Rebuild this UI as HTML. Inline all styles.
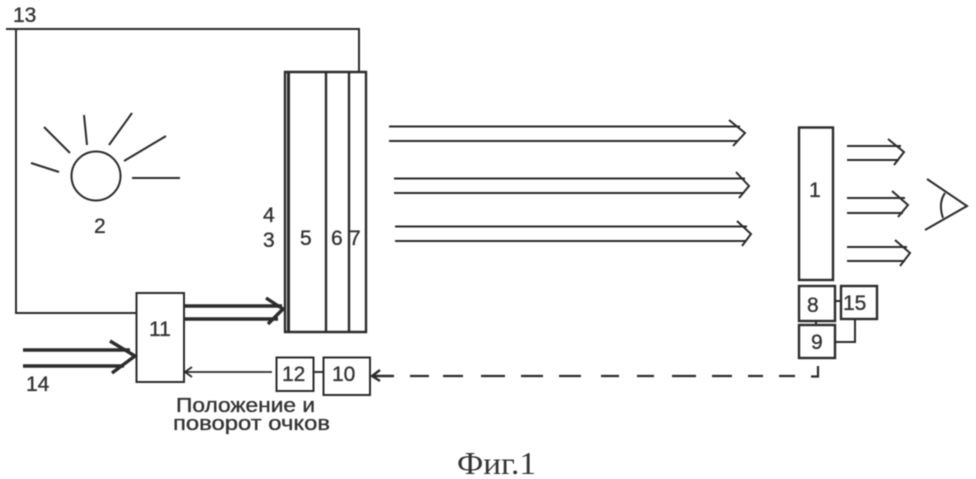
<!DOCTYPE html>
<html><head><meta charset="utf-8"><style>
html,body{margin:0;padding:0;background:#fff;width:976px;height:479px;overflow:hidden}
svg{display:block;filter:blur(0.55px)}
text{font-family:"Liberation Sans",sans-serif;font-size:21px;fill:#333;stroke:#333;stroke-width:.35px}
</style></head><body>
<svg width="976" height="479" viewBox="0 0 976 479" xmlns="http://www.w3.org/2000/svg">
<g fill="none" stroke="#2b2b2b" stroke-width="2">
<path d="M6 29H359V72M16 29V313H136"/>
<path d="M285 72H366V332H285Z" stroke-width="2.400"/>
<path d="M288.500 72V332" stroke-width="3"/>
<path d="M326 72V332M349 72V332" stroke-width="2.400"/>
<rect x="136.500" y="293" width="47.500" height="89"/>
<rect x="276.500" y="357.500" width="37" height="33.500"/>
<rect x="323.500" y="357.500" width="46.500" height="37.500"/>
<path d="M313 372H323"/>
<path d="M272 372H186M192 367L185 372L192 377" stroke-width="1.800"/>
<path d="M394 376H372M380 370L372 376L380 381" stroke-width="2.400"/>
<path d="M410 376H429M443 376H463M481 376H505M521 376H543M559 376H581M601 376H619M637 376H654M672 376H696M712 376H732M748 376H763M779 376H795M811 376.500H818V366" stroke-width="2.200"/>
<path d="M389 126.500H740M389 141H738M729 120L745 133L733 146"/>
<path d="M394 178.500H745M394 193H744M736 172L749 186L739 198"/>
<path d="M395 226.500H747M395 241H746M737 221L751 234L742 246"/>
<rect x="799" y="127.500" width="34" height="152.500" stroke-width="2.400"/>
<rect x="799" y="286" width="36" height="35" stroke-width="2.400"/>
<rect x="841" y="286" width="36" height="33" stroke-width="2.400"/>
<rect x="799" y="325" width="36" height="33" stroke-width="2.400"/>
<path d="M835 301H841M816 321V325M835 342H855V320"/>
<path d="M847 146H901M847 160H899M888 139L904 152L894 165"/>
<path d="M847 198H905M847 213H903M892 191L908 205L898 217"/>
<path d="M847 247H907M847 261H905M895 240L910 253L900 266"/>
<path d="M927 179L967 206L925 230M945 193Q938 203 943 218"/>
<circle cx="96" cy="176" r="24.500"/>
<path d="M31 163L59 172M44 127L70 153M84 115L87 145M132 113L109 145M166 136L124 161M132 178H180"/>
</g>
<g fill="none" stroke="#2c2c2c" stroke-width="3.400">
<path d="M184 306H282M184 319H278M266 298L283 309L268 324"/>
<path d="M23 350H130M23 366H124M110 341L135 356L112 373"/>
</g>
<text x="13" y="22">13</text>
<text x="94" y="233">2</text>
<text x="263" y="222">4</text>
<text x="263" y="247">3</text>
<text x="300" y="245">5</text>
<text x="331" y="245">6</text>
<text x="349" y="245">7</text>
<text x="149" y="336">11</text>
<text x="26" y="391">14</text>
<text x="282" y="381">12</text>
<text x="332" y="381">10</text>
<text x="809" y="197">1</text>
<text x="807" y="312">8</text>
<text x="843" y="310">15</text>
<text x="811" y="349">9</text>
<text x="176" y="412" style="font-size:20px" textLength="139" lengthAdjust="spacingAndGlyphs">Положение и</text>
<text x="173" y="430" style="font-size:20px" textLength="157" lengthAdjust="spacingAndGlyphs">поворот очков</text>
<text x="457" y="474" style="font-family:'Liberation Serif',serif;font-size:32px;stroke-width:0" textLength="79" lengthAdjust="spacingAndGlyphs">Фиг.1</text>
</svg>
</body></html>
